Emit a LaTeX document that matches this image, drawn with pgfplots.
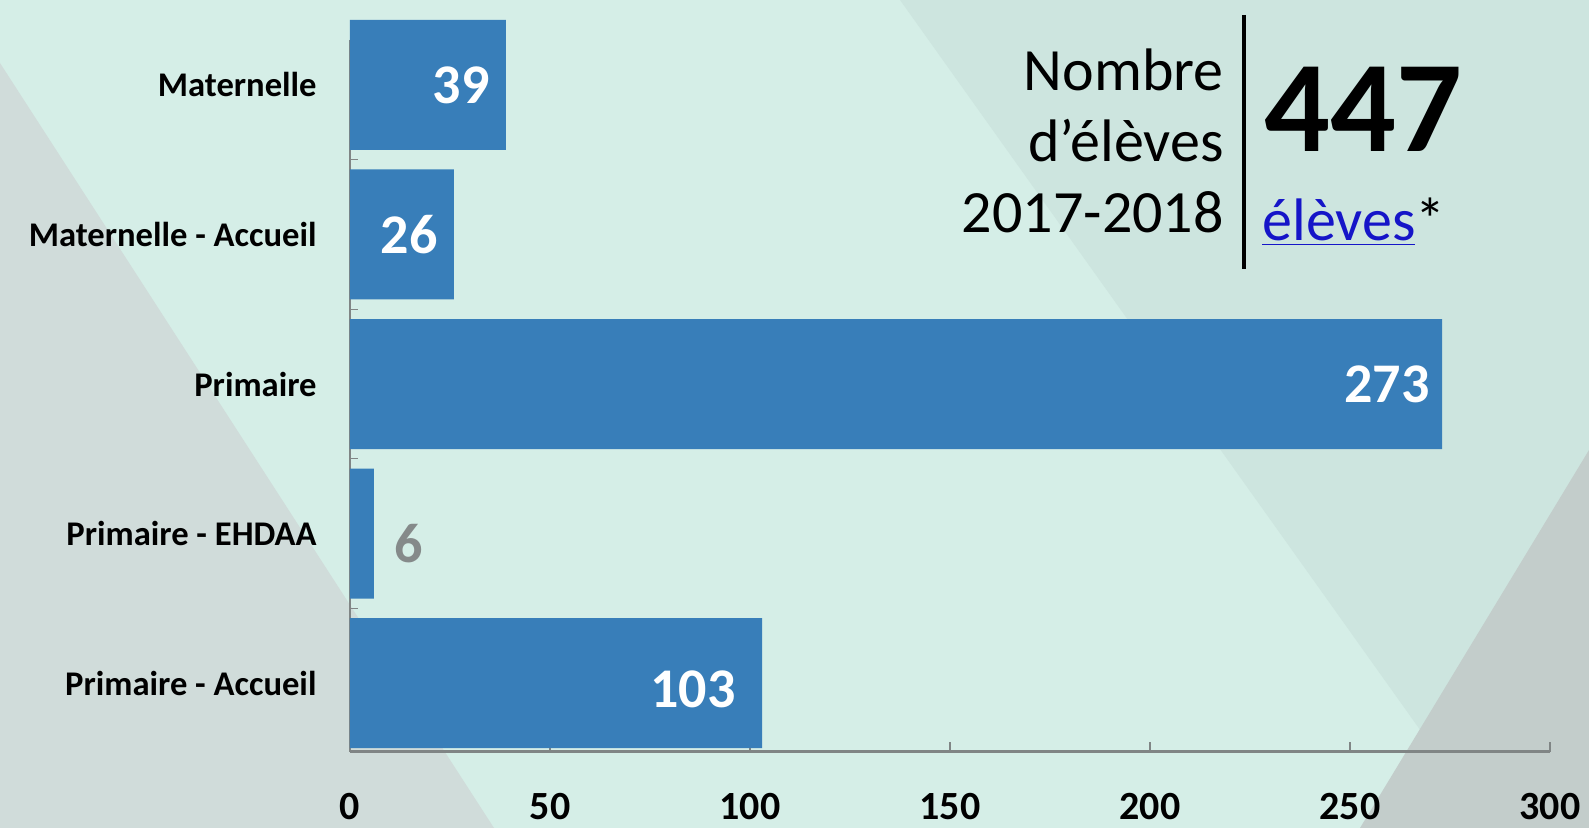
\documentclass[border=0pt]{standalone}
\usepackage{pgfplots}
\pgfplotsset{compat=1.18}
\usepackage{fontspec}
\setmainfont{Carlito}
\definecolor{bgmint}{HTML}{D5EEE7}
\definecolor{bgmint2}{HTML}{CDE5DF}
\definecolor{bggray}{HTML}{D0DCDA}
\definecolor{bgdark}{HTML}{C3CDCB}
\definecolor{barblue}{HTML}{387EB9}
\definecolor{axgray}{HTML}{808585}
\definecolor{linkblue}{HTML}{1515C8}
\definecolor{lblgray}{HTML}{858A8A}
\begin{document}
\begin{tikzpicture}
% background (1 px = 0.5pt, axis origin at px (350,752))
\fill[bgmint] (-175pt,-38pt) rectangle (619.5pt,376pt);
\fill[bgmint2] (275pt,376pt) -- (619.5pt,376pt) -- (619.5pt,-38pt) -- (570pt,-38pt) -- cycle;
\fill[bggray] (-175pt,344.5pt) -- (72pt,-38pt) -- (-175pt,-38pt) -- cycle;
\fill[bgdark] (619.5pt,151pt) -- (505pt,-38pt) -- (619.5pt,-38pt) -- cycle;
\begin{axis}[
  scale only axis,
  width=600pt, height=356pt,
  at={(0,0)}, anchor=south west,
  xbar, bar width=65pt,
  xmin=0, xmax=300,
  ymin=-0.46, ymax=4.3,
  clip=false,
  axis x line*=bottom, axis y line*=left,
  x axis line style={line width=1.5pt, color=axgray},
  y axis line style={line width=0.9pt, color=axgray},
  xtick={0,50,100,150,200,250,300},
  ytick={0,1,2,3,4},
  yticklabels={Primaire - Accueil, Primaire - EHDAA, Primaire, Maternelle - Accueil, Maternelle},
  minor ytick={0.5,1.5,2.5,3.5,4.3},
  tick align=inside,
  major x tick style={line width=0.6pt, color=axgray},
  major tick length=5pt,
  major y tick style={draw=none},
  minor y tick style={line width=0.6pt, color=axgray},
  minor tick length=4pt,
  /pgf/number format/assume math mode=true,
  xticklabel style={font=\fontsize{20}{24}\selectfont\bfseries, inner sep=0pt, anchor=north, yshift=-20.5pt},
  yticklabel style={font=\fontsize{17.3}{20}\selectfont\bfseries, inner sep=0pt, anchor=east, xshift=-16.5pt},
]
\addplot[fill=barblue, draw=none] coordinates {(103,0) (6,1) (273,2) (26,3) (39,4)};
\node[anchor=east, inner sep=0pt, text=white, font=\fontsize{28}{30}\selectfont\bfseries, xshift=-8pt] at (axis cs:39,4) {39};
\node[anchor=east, inner sep=0pt, text=white, font=\fontsize{28}{30}\selectfont\bfseries, xshift=-8pt] at (axis cs:26,3) {26};
\node[anchor=east, inner sep=0pt, text=white, font=\fontsize{28}{30}\selectfont\bfseries, xshift=-6pt] at (axis cs:273,2) {273};
\node[anchor=west, inner sep=0pt, text=lblgray, font=\fontsize{28}{30}\selectfont\bfseries, xshift=10pt, yshift=-5pt] at (axis cs:6,1) {6};
\node[anchor=east, inner sep=0pt, text=white, font=\fontsize{28}{30}\selectfont\bfseries, xshift=-13pt, yshift=-3pt] at (axis cs:103,0) {103};
\end{axis}
% summary block
\node[anchor=base east, inner sep=0pt, font=\fontsize{30}{36}\selectfont] at (437pt,330.5pt) {Nombre};
\node[anchor=base east, inner sep=0pt, font=\fontsize{30}{36}\selectfont] at (437pt,295pt) {d’élèves};
\node[anchor=base east, inner sep=0pt, font=\fontsize{30}{36}\selectfont] at (437pt,259.5pt) {2017-2018};
\draw[line width=2pt, black] (447pt,368.5pt) -- (447pt,241.5pt);
\node[anchor=base west, inner sep=0pt, font=\fontsize{65}{70}\selectfont\bfseries] at (457pt,300pt) {447};
\node[anchor=base west, inner sep=0pt, font=\fontsize{30}{36}\selectfont] at (456pt,255.5pt) {\textcolor{linkblue}{\underline{élèves}}*};
\pgfresetboundingbox
\path (-175pt,-38pt) rectangle (619.5pt,376pt);
\end{tikzpicture}
\end{document}
